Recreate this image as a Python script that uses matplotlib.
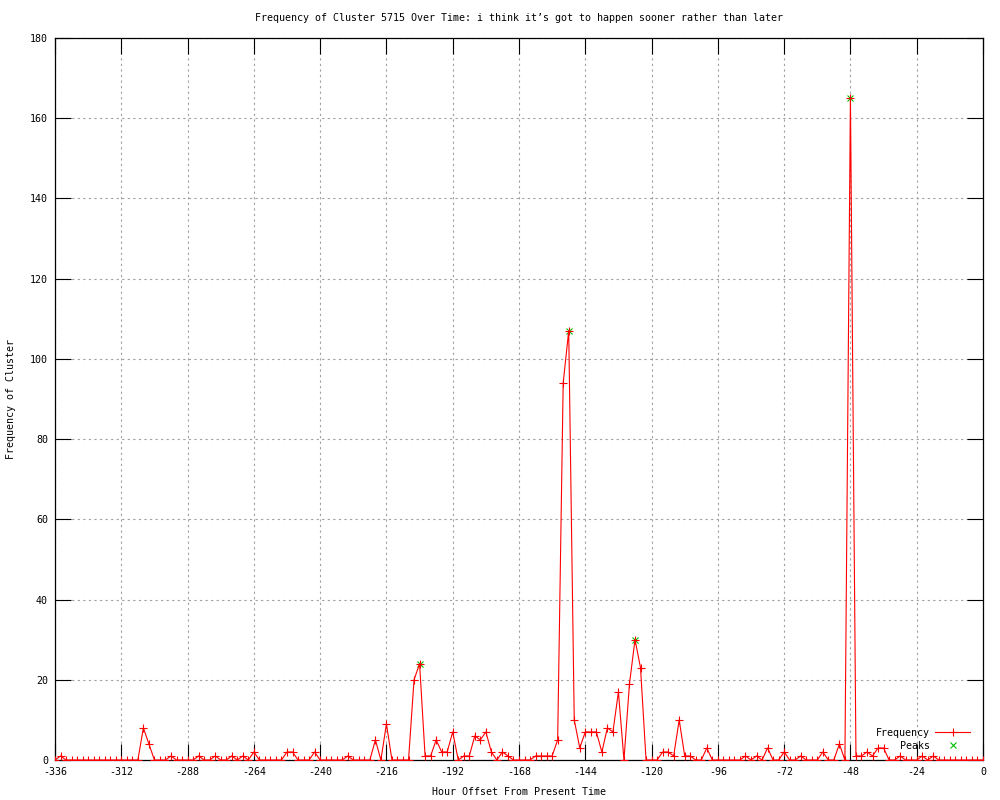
import numpy as np
import matplotlib
matplotlib.use("Agg")
import matplotlib.pyplot as plt

plt.rcParams['font.family'] = ['DejaVu Sans Mono']
plt.rcParams['axes.unicode_minus'] = False

# Hores (cada 2 h) i freqüències llegides del gràfic
hours = np.arange(-336, 1, 2)
freq = [
    0, 1, 0, 0, 0, 0, 0, 0, 0, 0, 0, 0,        # -336 .. -314
    0, 0, 0, 0, 8, 4, 0, 0, 0, 1, 0, 0,        # -312 .. -290
    0, 0, 1, 0, 0, 1, 0, 0, 1, 0, 1, 0,        # -288 .. -266
    2, 0, 0, 0, 0, 0, 2, 2, 0, 0, 0, 2,        # -264 .. -242
    0, 0, 0, 0, 0, 1, 0, 0, 0, 0, 5, 0,        # -240 .. -218
    9, 0, 0, 0, 0, 20, 24, 1, 1, 5, 2, 2,      # -216 .. -194
    7, 0, 1, 1, 6, 5, 7, 2, 0, 2, 1, 0,        # -192 .. -170
    0, 0, 0, 1, 1, 1, 1, 5, 94, 107, 10, 3,    # -168 .. -146
    7, 7, 7, 2, 8, 7, 17, 0, 19, 30, 23, 0,    # -144 .. -122
    0, 0, 2, 2, 1, 10, 1, 1, 0, 0, 3, 0,       # -120 .. -98
    0, 0, 0, 0, 0, 1, 0, 1, 0, 3, 0, 0,        # -96 .. -74
    2, 0, 0, 1, 0, 0, 0, 2, 0, 0, 4, 0,        # -72 .. -50
    165, 1, 1, 2, 1, 3, 3, 0, 0, 1, 0, 0,      # -48 .. -26
    0, 1, 0, 1, 0, 0, 0, 0, 0, 0, 0, 0,        # -24 .. -2
    0,                                         # 0
]

peak_hours = [-204, -150, -126, -48]
peak_vals = [24, 107, 30, 165]

xticks = list(range(-336, 1, 24))
yticks = list(range(0, 181, 20))

fig = plt.figure(figsize=(10, 8), dpi=100)
ax = fig.add_axes([0.055, 0.05, 0.928, 0.9025])

ax.plot(hours, freq, color='red', linewidth=0.8, marker='+',
        markersize=5.5, markeredgewidth=0.8, label='Frequency', zorder=3)
ax.plot(peak_hours, peak_vals, linestyle='none', color='#00c000', marker='x',
        markersize=5, markeredgewidth=0.8, label='Peaks', zorder=2)

ax.set_xlim(-336, 0)
ax.set_ylim(0, 180)
ax.set_xticks(xticks)
ax.set_yticks(yticks)
ax.grid(True, color='#a0a0a0', linestyle=(0, (2, 3)), linewidth=0.8)
ax.tick_params(direction='in', length=11.5, width=0.8, top=True, right=True,
               labelsize=7.2, pad=5, color='black')
for s in ax.spines.values():
    s.set_linewidth(0.9)

ax.set_title("Frequency of Cluster 5715 Over Time: i think it’s got to happen sooner rather than later",
             fontsize=7.2, pad=12)
ax.set_xlabel("Hour Offset From Present Time", fontsize=7.2, labelpad=7)
ax.set_ylabel("Frequency of Cluster", fontsize=7.2, labelpad=10)

# Llegenda a baix a la dreta, text alineat a la dreta
h1, h2 = ax.get_lines()
leg1 = ax.legend([h1], ['Frequency'], loc='center right', bbox_to_anchor=(0.986, 0.0374),
                 frameon=False, markerfirst=False, fontsize=7.2, handlelength=3.5,
                 handletextpad=0.5, borderpad=0, borderaxespad=0)
ax.add_artist(leg1)
ax.legend([h2], ['Peaks'], loc='center right', bbox_to_anchor=(0.986, 0.0194),
          frameon=False, markerfirst=False, fontsize=7.2, handlelength=3.5,
          handletextpad=0.5, borderpad=0, borderaxespad=0)

fig.savefig('out.png', dpi=100)
